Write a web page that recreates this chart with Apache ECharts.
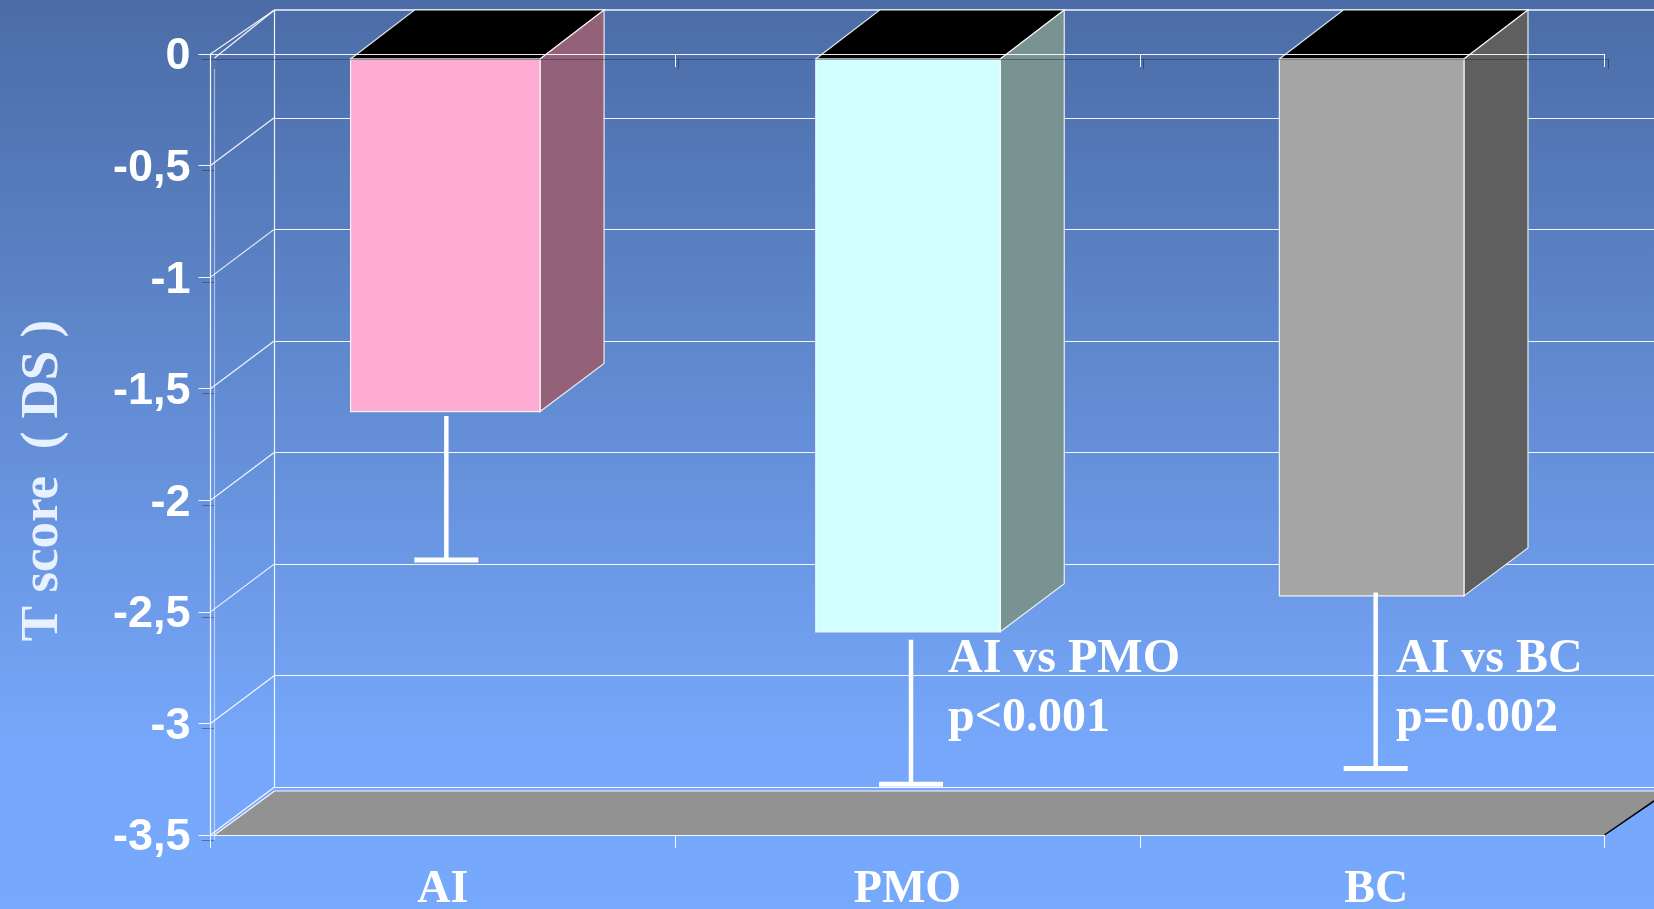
<!DOCTYPE html>
<html><head><meta charset="utf-8">
<style>html,body{margin:0;padding:0;background:#76a8fb}#c{width:1654px;height:909px}</style>
<script src="https://cdn.jsdelivr.net/npm/echarts@6/dist/echarts.min.js"></script>
</head><body><div id="c"></div>
<script>
const categories = ['AI', 'PMO', 'BC'];
const barValues = [-1.58, -2.567, -2.406];
const errStart = [-1.6, -2.603, -2.391];
const errEnd = [-2.245, -3.25, -3.18];
const yTicks = [0, -0.5, -1, -1.5, -2, -2.5, -3, -3.5];
const notes = ['AI vs PMO', 'p<0.001', 'AI vs BC', 'p=0.002'];

const frontColors = ['#ffacd4', '#d2ffff', '#a5a5a5'];
const sideColors = ['#936178', '#799393', '#5f5f5f'];
const barWidths = [189.5, 184.5, 184.6];
const barNudge = [-1, -3, -4];
const DX = 64, DY = 48, BACK_TOP = 10;
const WHITE = 'rgba(255,255,255,0.92)';
const line = (x1, y1, x2, y2, w, c) => ({type:'line', shape:{x1,y1,x2,y2}, style:{stroke:c||WHITE, lineWidth:w||1.2}, silent:true});

function renderBar(params, api) {
  const i = api.value(0), v = api.value(1);
  const c = api.coord([i, v]), c0 = api.coord([i, 0]);
  const w = barWidths[i], L = c[0] + barNudge[i] - w / 2, R = L + w, T = c0[1], B = c[1];
  const edge = {stroke:'rgba(255,255,255,0.85)', lineWidth:1.2};
  return {type:'group', children:[
    {type:'polygon', shape:{points:[[L,T],[R,T],[R+DX,BACK_TOP],[L+DX,BACK_TOP]]}, style:Object.assign({fill:'#000'},edge)},
    {type:'polygon', shape:{points:[[R,T],[R+DX,BACK_TOP],[R+DX,B-DY],[R,B]]}, style:Object.assign({fill:sideColors[i]},edge)},
    {type:'rect', shape:{x:L,y:T,width:w,height:B-T}, style:Object.assign({fill:frontColors[i]},edge)}
  ]};
}
function renderErr(params, api) {
  const i = api.value(0);
  const a = api.coord([i, api.value(1)]), b = api.coord([i, api.value(2)]);
  return {type:'group', children:[
    line(a[0], a[1], a[0], b[1], 4.5, '#fff'),
    line(a[0]-32, b[1], a[0]+32, b[1], 5, '#fff')
  ]};
}
function renderDiag(params, api) {
  const s = params.coordSys, y = api.coord([0, api.value(0)])[1];
  return line(s.x, y, s.x + DX, Math.max(y - DY, BACK_TOP));
}
function renderFrame(params, api) {
  const s = params.coordSys, top = s.y, bot = s.y + s.height;
  const bx = s.x + DX, by = bot - DY;
  return {type:'group', children:[
    {type:'polygon', shape:{points:[[s.x+4,bot],[s.x+s.width,bot],[s.x+s.width+DX,by+4],[bx,by+4]]}, style:{fill:'#929292'}},
    line(s.x+s.width, bot, s.x+s.width+DX, by+4, 1.5, '#000'),
    line(bx, by+4, s.x+s.width+DX, by+4, 1.2),
    line(s.x+4, bot, bx, by+4, 1.2),
    line(bx, BACK_TOP, s.x+s.width+DX, BACK_TOP, 1.4),
    line(bx, BACK_TOP, bx, by, 1.2),
    line(s.x+4, top+4, bx, BACK_TOP, 1.2)
  ]};
}
const note = (text, left, top) => ({type:'text', left, top, z:20, style:{text, fill:'#fff', font:'bold 48px "Liberation Serif"'}});
const catFont = {fontFamily:'Liberation Serif', fontWeight:'bold', fontSize:46, color:'#fff'};
const tickFont = {fontFamily:'Liberation Sans', fontWeight:'bold', fontSize:45, color:'#fff'};

const option = {
  animation:false,
  backgroundColor:{type:'linear',x:0,y:0,x2:0,y2:1,colorStops:[{offset:0,color:'#4b6ca6'},{offset:0.82,color:'#76a7fa'},{offset:1,color:'#76a8fb'}]},
  grid:[
    {left:210.5, top:54, width:1394, height:781, outerBoundsMode:'none'},
    {left:214, top:59, width:1394, height:781, outerBoundsMode:'none'},
    {left:274.5, top:6.7, width:1394, height:780.5, outerBoundsMode:'none'}
  ],
  xAxis:[
    {gridIndex:0, type:'category', data:categories, position:'bottom', z:10,
      axisLine:{onZero:false,lineStyle:{color:WHITE,width:1.2}}, axisTick:{show:true,length:13,lineStyle:{color:WHITE,width:1}},
      axisLabel:Object.assign({margin:32, formatter:v=>v==='BC'?'{s|BC}':v, rich:{s:Object.assign({padding:[0,0,0,8]},catFont)}},catFont)},
    {gridIndex:0, type:'category', data:categories, position:'top', z:10,
      axisLine:{onZero:false,lineStyle:{color:WHITE,width:1.2}}, axisTick:{show:true,inside:true,length:13,lineStyle:{color:WHITE,width:1}}, axisLabel:{show:false}},
    {gridIndex:1, type:'category', data:categories, position:'top', z:9,
      axisLine:{onZero:false,lineStyle:{color:'rgba(30,40,70,0.45)',width:1.2}}, axisTick:{show:true,inside:true,length:10,lineStyle:{color:'rgba(30,40,70,0.5)',width:1}}, axisLabel:{show:false}},
    {gridIndex:2, type:'category', data:categories, show:false}
  ],
  yAxis:[
    {gridIndex:0, type:'value', min:-3.5, max:0, interval:0.5, z:10, splitLine:{show:false},
      axisLine:{show:true,lineStyle:{color:WHITE,width:1.2}}, axisTick:{show:true,length:12,lineStyle:{color:WHITE,width:1}},
      axisLabel:Object.assign({margin:20,formatter:v=>'{n|'+String(v).replace('.',',')+'}',rich:{n:Object.assign({padding:[6,0,0,0]},tickFont)}},tickFont),
      name:'T score  ( DS )', nameLocation:'middle', nameRotate:90, nameGap:141,
      nameTextStyle:{color:'#e8f1ff',fontFamily:'Liberation Serif',fontWeight:'bold',fontSize:53,padding:[0,72,0,0]}},
    {gridIndex:1, type:'value', min:-3.5, max:0, interval:0.5, z:9, splitLine:{show:false},
      axisLine:{show:true,lineStyle:{color:'rgba(255,255,255,0.5)',width:1.2}}, axisTick:{show:true,length:12,lineStyle:{color:'rgba(30,40,70,0.45)',width:1}}, axisLabel:{show:false}},
    {gridIndex:2, type:'value', min:-3.5, max:0, interval:0.5, z:0, axisLine:{show:false}, axisTick:{show:false}, axisLabel:{show:false},
      splitLine:{show:true,showMaxLine:false,lineStyle:{color:WHITE,width:1.2}}}
  ],
  series:[
    {type:'custom', name:'floor', xAxisIndex:0, yAxisIndex:0, z:1, silent:true, renderItem:renderFrame, data:[[0]]},
    {type:'custom', name:'depth', xAxisIndex:0, yAxisIndex:0, z:1, silent:true, renderItem:renderDiag, data:yTicks.map(v=>[v]), encode:{y:0}},
    {type:'custom', name:'bars', xAxisIndex:2, yAxisIndex:1, z:3, silent:true, renderItem:renderBar, data:categories.map((c,i)=>[i,barValues[i]])},
    {type:'custom', name:'errors', xAxisIndex:2, yAxisIndex:1, z:4, silent:true, renderItem:renderErr, data:categories.map((c,i)=>[i,errStart[i],errEnd[i]])}
  ],
  graphic:[note(notes[0],948,636), note(notes[1],948,695), note(notes[2],1396,636), note(notes[3],1396,695)]
};
const chart = echarts.init(document.getElementById('c'));
chart.setOption(option);
</script></body></html>
